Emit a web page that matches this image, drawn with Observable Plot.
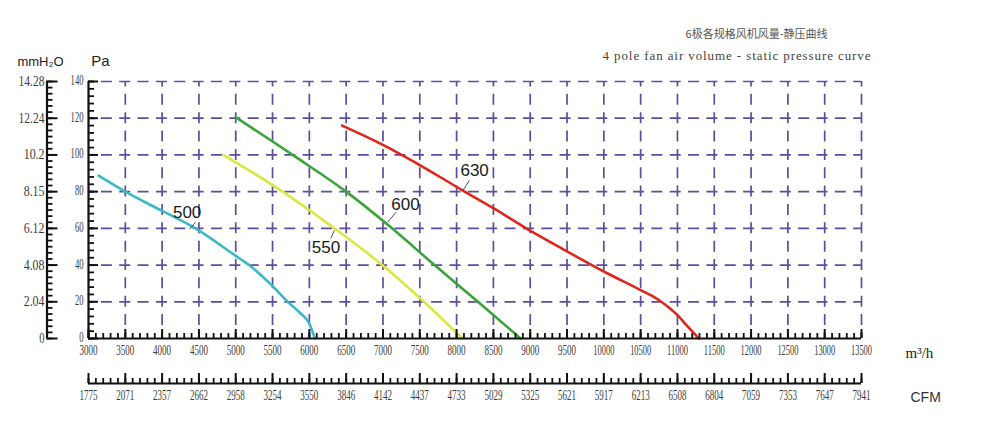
<!DOCTYPE html>
<html><head><meta charset="utf-8">
<script src="https://cdn.jsdelivr.net/npm/d3@7"></script>
<script src="https://cdn.jsdelivr.net/npm/@observablehq/plot@0.6"></script>
<style>
body{margin:0;background:#fff;}
#wrap{width:1000px;height:438px;}
</style></head><body><div id="wrap"></div>
<script>
// ---- data ----
const flowTicks = [3000,3500,4000,4500,5000,5500,6000,6500,7000,7500,8000,8500,9000,9500,10000,10500,11000,11500,12000,12500,13000,13500];
const flowLabels = ["3000","3500","4000","4500","5000","5500","6000","6500","7000","7500","8000","8500","9000","9500","10000","10500","11000","11500","12000","12500","13000","13500"];
const cfmLabels = ["1775","2071","2357","2662","2958","3254","3550","3846","4142","4437","4733","5029","5325","5621","5917","6213","6508","6804","7059","7353","7647","7941"];
const paTicks = [140,120,100,80,60,40,20,0];
const mmLabels = ["14.28","12.24","10.2","8.15","6.12","4.08","2.04","0"];

const fan500 = [[3136,88.7],[3500,80],[4000,69.5],[4432,60.5],[5000,45],[5182,40],[5500,28.5],[5705,20],[5864,14.3],[6000,8],[6075,0]];
const fan550 = [[4832,100],[5000,96],[5636,80],[6341,60],[6990,40],[7555,20],[8080,0]];
const fan600 = [[5000,120.5],[5773,100],[6500,80],[7123,60],[7700,40],[8290,20],[8870,0]];
const fan630 = [[6445,116],[7000,105.5],[7500,94.5],[8068,81],[8500,71],[8946,60],[9500,47.5],[10000,36.5],[10500,26.4],[10650,23.3],[10795,19.6],[10900,16.3],[11000,12.7],[11100,8.3],[11290,0]];

const curveNames = ["500","550","600","630"];
const curveColors = ["#3ab8c8","#dbe640","#3aa33a","#e0261c"];
const labelPos = [[4340,68.8],[6225,49.8],[7305,73],[8245,91.5]];
const leaderFrom = [[4455,63.4],[6292,54.5],[7178,68.8],[8173,86.1]];
const leaderTo = [[4373,59.5],[6338,58.9],[7065,63.4],[8087,80.7]];

const titleCN = "6极各规格风机风量-静压曲线";
const titleEN = "4 pole fan air volume - static pressure curve";

// ---- layout ----
const W = 1000, H = 438, mL = 88, mR = 139, mT = 81, mB = 100;
const fW = W - mL - mR, fH = H - mT - mB;
const gridColor = "#5b4e9e";
const fFlow = "Liberation Serif", fPa = "Liberation Serif,serif", fMm = "Liberation Serif,Times", fTitle = "Liberation Serif,DejaVu Serif";
const tickFill = "#3a3a3a", tickSize = 14;

const minorX = d3.range(3000, 13501, 100);
const minorPa = d3.range(0, 141, 4);
const minorMm = d3.range(0, 140.01, 20/6);
const gridX = flowTicks.slice(1);
const gridY = paTicks.filter(d => d > 0);

const series = [fan500, fan550, fan600, fan630];
const labels = curveNames.map((n,i)=>({n, x:labelPos[i][0], y:labelPos[i][1]}));
const leaders = curveNames.map((n,i)=>({x1:leaderFrom[i][0], y1:leaderFrom[i][1], x2:leaderTo[i][0], y2:leaderTo[i][1]}));

const dash = {stroke: gridColor, strokeWidth: 1.7, strokeDasharray: "11,7.35", strokeDashoffset: 5.5};
const ink = "#111";

const chart = Plot.plot({
  width: W, height: H,
  marginLeft: mL, marginRight: mR, marginTop: mT, marginBottom: mB,
  x: {domain: [3000, 13500], axis: null},
  y: {domain: [0, 140], axis: null},
  style: {background: "#fff"},
  marks: [
    Plot.ruleX(gridX, {x: d => d, ...dash}),
    Plot.ruleY(gridY, {y: d => d, ...dash}),
    ...series.map((s,i) => Plot.line(s, {x: d => d[0], y: d => d[1], stroke: curveColors[i], strokeWidth: 2.6, curve: "monotone-x"})),
    Plot.link(leaders, {x1:"x1", y1:"y1", x2:"x2", y2:"y2", stroke: "#222", strokeWidth: 0.8}),
    Plot.text(labels, {x:"x", y:"y", text:"n", fontFamily:"Liberation Sans", fontSize: 17, fill:"#1a1a1a"}),
    // Pa axis
    Plot.ruleX([3000], {stroke: ink, strokeWidth: 2.2}),
    Plot.ruleY(minorPa, {y: d=>d, insetRight: fW-6, stroke: ink, strokeWidth: 1.8}),
    Plot.ruleY(paTicks, {y: d=>d, insetRight: fW-10, stroke: ink, strokeWidth: 2}),
    Plot.text(paTicks, {y: d=>d, frameAnchor:"left", dx:-5, dy:-1, textAnchor:"end", lineAnchor:"middle", text: d=>String(d), fontFamily: fPa, fontSize: tickSize, fill: tickFill}),
    // mmH2O axis
    Plot.ruleX([3000], {dx:-41.5, stroke: ink, strokeWidth: 2.2}),
    Plot.ruleY(minorMm, {y: d=>d, dx:-41.5, insetRight: fW-6, stroke: ink, strokeWidth: 1.8}),
    Plot.ruleY(paTicks, {y: d=>d, dx:-41.5, insetRight: fW-11, stroke: ink, strokeWidth: 2}),
    Plot.text(mmLabels, {y: (d,i)=>paTicks[i], frameAnchor:"left", dx:-44, textAnchor:"end", lineAnchor:"middle", text: d=>d, fontFamily: fMm, fontSize: tickSize, fill: tickFill}),
    // m3/h axis
    Plot.ruleY([0], {stroke: ink, strokeWidth: 2.2}),
    Plot.ruleX(minorX, {x: d=>d, insetTop: fH-5, stroke: ink, strokeWidth: 1.8}),
    Plot.ruleX(flowTicks, {x: d=>d, insetTop: fH-9, stroke: ink, strokeWidth: 2}),
    Plot.text(flowLabels, {x: (d,i)=>flowTicks[i], frameAnchor:"bottom", dy: 12.5, lineAnchor:"middle", text: d=>d, fontFamily: fFlow, fontSize: tickSize, fill: tickFill}),
    // CFM axis
    Plot.ruleY([0], {dy: 45, stroke: ink, strokeWidth: 2.2}),
    Plot.ruleX(minorX, {x: d=>d, dy: 45, insetTop: fH-5, stroke: ink, strokeWidth: 1.8}),
    Plot.ruleX(flowTicks, {x: d=>d, dy: 45, insetTop: fH-10, stroke: ink, strokeWidth: 2}),
    Plot.text(cfmLabels, {x: (d,i)=>flowTicks[i], frameAnchor:"bottom", dy: 57, lineAnchor:"middle", text: d=>d, fontFamily: fFlow, fontSize: tickSize, fill: tickFill}),
    // titles and units
    Plot.text([titleCN], {frameAnchor:"top-left", dx: 668, dy: -47, textAnchor:"middle", lineAnchor:"middle", text: d=>d, fontFamily:"Noto Sans CJK SC", fontSize: 11, fill:"#555"}),
    Plot.text([titleEN], {frameAnchor:"top-left", dx: 648, dy: -26, textAnchor:"middle", lineAnchor:"middle", text: d=>d, fontFamily: fTitle, fontSize: 13, fill:"#444"}),
    Plot.text(["mmH\u2082O"], {frameAnchor:"top-left", dx: -48, dy: -20, textAnchor:"middle", lineAnchor:"middle", text: d=>d, fontFamily:"Liberation Sans", fontSize: 13, fill:"#222"}),
    Plot.text(["Pa"], {frameAnchor:"top-left", dx: 12, dy: -20, textAnchor:"middle", lineAnchor:"middle", text: d=>d, fontFamily:"Liberation Sans", fontSize: 15, fill:"#222"}),
    Plot.text(["m\u00b3/h"], {frameAnchor:"bottom-right", dx: 44, dy: 15, textAnchor:"start", lineAnchor:"middle", text: d=>d, fontFamily: fTitle, fontSize: 15, fill:"#222"}),
    Plot.text(["CFM"], {frameAnchor:"bottom-right", dx: 49, dy: 59, textAnchor:"start", lineAnchor:"middle", text: d=>d, fontFamily:"Liberation Sans", fontSize: 14, fill:"#333"})
  ]
});
document.getElementById("wrap").append(chart);

// condensed look of the tick-label font
const sel = d3.select(chart);
sel.selectAll(`g[font-family="${fFlow}"] text`).each(function(){
  const n = this.textContent.length;
  d3.select(this).attr("textLength", n >= 5 ? 21 : 18).attr("lengthAdjust", "spacingAndGlyphs");
});
sel.selectAll(`g[font-family="${fPa}"] text`).each(function(){
  const n = this.textContent.length;
  d3.select(this).attr("textLength", n * 4.3).attr("lengthAdjust", "spacingAndGlyphs");
});
sel.selectAll(`g[font-family="${fMm}"] text`).each(function(){
  const n = this.textContent.length;
  d3.select(this).attr("textLength", n * 5.2).attr("lengthAdjust", "spacingAndGlyphs");
});
sel.selectAll(`g[font-family="${fTitle}"] text`).each(function(){
  if (this.textContent === titleEN) d3.select(this).attr("textLength", 268);
});
</script></body></html>
